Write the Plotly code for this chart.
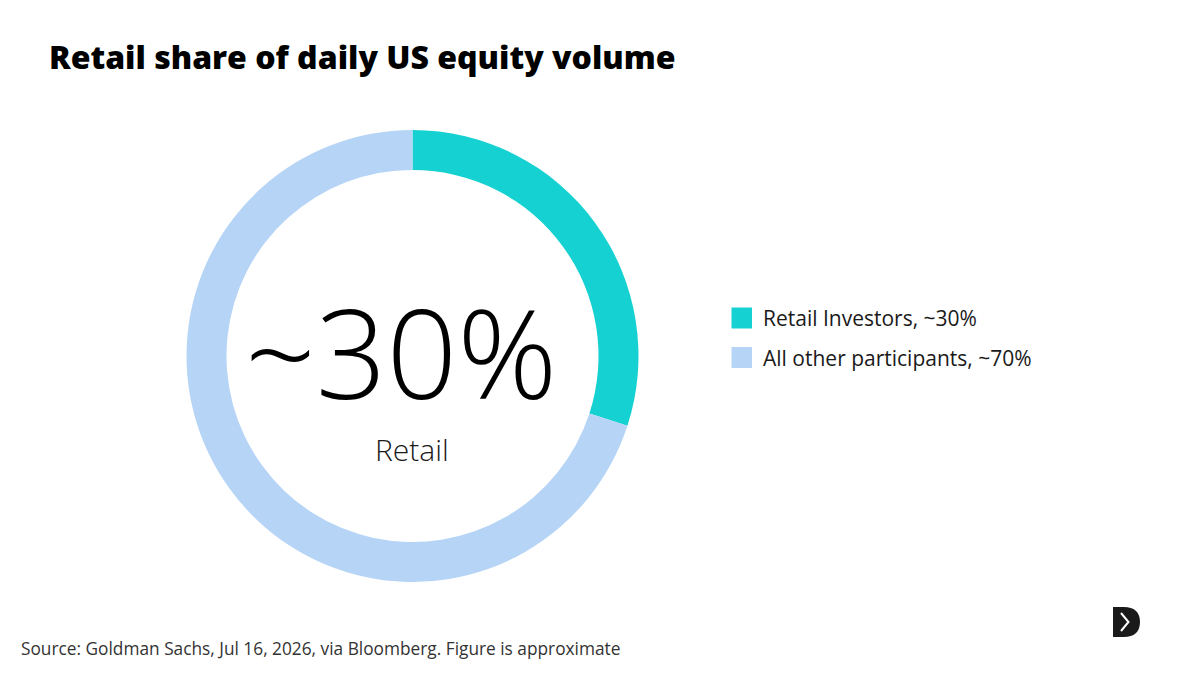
import plotly.graph_objects as go

W, H = 1200, 675
OFF = 8  # page body margin in the browser

title = 'Retail share of daily US equity volume'
source = 'Source: Goldman Sachs, Jul 16, 2026, via Bloomberg. Figure is approximate'

labels = ['Retail Investors', 'All other participants']
values = [30, 70]
legend_text = ['Retail Investors, ~30%', 'All other participants, ~70%']
colors = ['#16D1D2', '#B6D5F6']
center_value = '~30%'
center_label = 'Retail'


def px(x):
    return (x - OFF) / W


def py(y):
    return 1 - (y - OFF) / H


fig = go.Figure()
fig.add_trace(go.Pie(labels=labels, values=values, hole=0.823,
                     sort=False, direction='clockwise', rotation=0,
                     marker=dict(colors=colors, line=dict(width=0)),
                     textinfo='none', hoverinfo='label+percent',
                     domain=dict(x=[px(186.5), px(638.5)], y=[py(582), py(130)]),
                     showlegend=False))

annotations = [
    dict(text=title, x=px(47), y=py(56), xanchor='left', yanchor='middle',
         font=dict(family='Open Sans', size=32, color='#000000', weight=800)),
    dict(text=source, x=px(18.5), y=py(648), xanchor='left', yanchor='middle',
         font=dict(family='Open Sans', size=17.3, color='#333333')),
    dict(text=center_value, x=px(401), y=py(350), xanchor='center', yanchor='middle',
         font=dict(family='Open Sans', size=124, color='#000000', weight=300)),
    dict(text=center_label, x=px(412), y=py(449), xanchor='center', yanchor='middle',
         font=dict(family='Open Sans', size=30, color='#1a1a1a', weight=300)),
]

shapes = []
# legend built from the label/colour lists
for i, (txt, col) in enumerate(zip(legend_text, colors)):
    cy = 318 + i * 39.5
    shapes.append(dict(type='rect', xref='paper', yref='paper',
                       x0=px(731.5), x1=px(752), y0=py(cy - 10.5), y1=py(cy + 10.5),
                       fillcolor=col, line=dict(width=0)))
    annotations.append(dict(text=txt, x=px(761), y=py(cy), xanchor='left', yanchor='middle',
                            font=dict(family='Open Sans', size=21, color='#1a1a1a')))

for a in annotations:
    a['showarrow'] = False

# logo mark, bottom right
d_path = 'M {0},{1} L {2},{1} C {3},{1} {4},{5} {4},{6} C {4},{7} {3},{8} {2},{8} L {0},{8} Z'.format(
    px(1113), py(607), px(1124), px(1134), px(1140), py(612), py(622), py(632), py(637))
shapes.append(dict(type='path', xref='paper', yref='paper', path=d_path,
                   fillcolor='#1a1a1a', line=dict(width=0)))
chev = 'M {0},{1} L {2},{3} L {0},{4}'.format(px(1121), py(613), px(1128.5), py(622), py(631))
shapes.append(dict(type='path', xref='paper', yref='paper', path=chev,
                   line=dict(color='white', width=2)))

fig.update_layout(width=W, height=H, margin=dict(l=0, r=0, t=0, b=0),
                  paper_bgcolor='white', plot_bgcolor='white',
                  font=dict(family='Open Sans'),
                  annotations=annotations, shapes=shapes)

fig.write_html('out.html')
